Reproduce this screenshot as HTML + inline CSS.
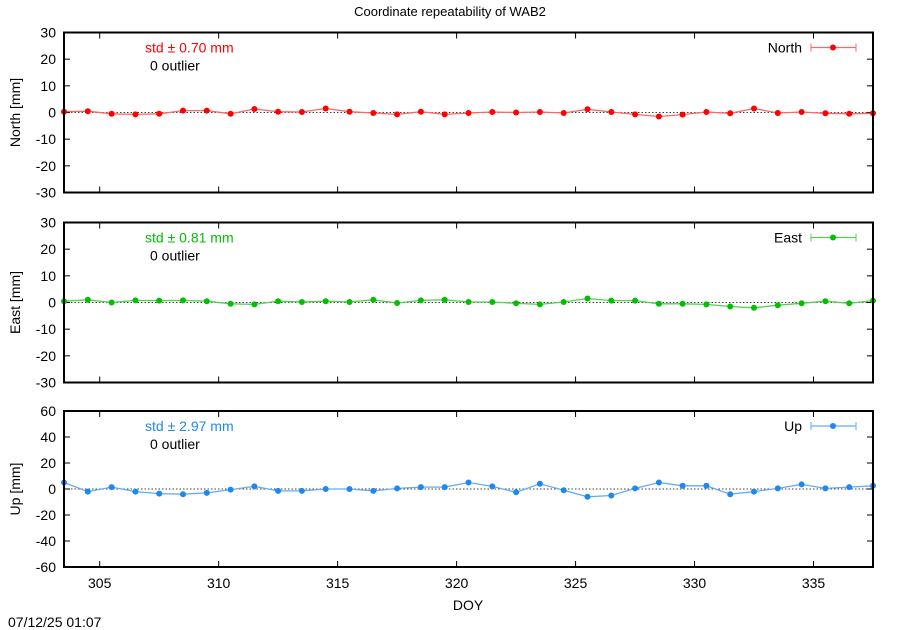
<!DOCTYPE html>
<html><head><meta charset="utf-8"><style>
body{margin:0;background:#fff;width:900px;height:630px;overflow:hidden}
svg{display:block;font-family:"Liberation Sans",sans-serif}
</style></head><body>
<svg id="s" width="900" height="630" xmlns="http://www.w3.org/2000/svg"></svg>
<script>
var s=document.getElementById('s'),h='';
var X0=64,X1=873,xmin=303.5,xmax=337.5;
function X(v){return X0+(v-xmin)*(X1-X0)/(xmax-xmin);}
var P=[
{t:32.5,b:192.5,min:-30,max:30,step:10,name:'North',lab:'North [mm]',c:'#ff0000',lc:'#ff6666',std:'0.70',
d:[0.3,0.5,-0.5,-0.7,-0.5,0.7,0.7,-0.5,1.3,0.3,0.2,1.5,0.3,-0.2,-0.7,0.3,-0.7,-0.2,0.2,0,0.2,-0.2,1.2,0.2,-0.7,-1.5,-0.8,0.2,-0.3,1.5,-0.2,0.2,-0.3,-0.5,-0.3]},
{t:222.5,b:382.5,min:-30,max:30,step:10,name:'East',lab:'East [mm]',c:'#00c000',lc:'#55d055',std:'0.81',
d:[0.5,1,0,0.8,0.7,0.8,0.5,-0.5,-0.7,0.5,0.2,0.5,0.2,1,-0.2,0.8,1,0.2,0.2,-0.3,-0.7,0.2,1.5,0.7,0.7,-0.5,-0.5,-0.7,-1.5,-2,-1,-0.3,0.5,-0.3,0.7]},
{t:411,b:567,min:-60,max:60,step:20,name:'Up',lab:'Up [mm]',c:'#1e88f0',lc:'#66aaf5',std:'2.97',
d:[5,-2,1.5,-2,-3.5,-4,-3,-0.5,2,-1.5,-1.5,0,0,-1.5,0.5,1.5,1.5,5,2,-2.5,4,-1,-6,-5,0.5,5,2.5,2.5,-4,-2,0.5,3.5,0.5,1.5,2.5]}];
h+='<text x="450" y="16" font-size="13" text-anchor="middle">Coordinate repeatability of WAB2</text>';
P.forEach(function(p){
 function Y(v){return p.b-(v-p.min)*(p.b-p.t)/(p.max-p.min);}
 for(var v=p.min;v<=p.max;v+=p.step){var y=Y(v);
  h+='<text x="56" y="'+(y+5)+'" font-size="14" text-anchor="end">'+v+'</text>';
  if(v>p.min&&v<p.max){h+='<line x1="'+X0+'" x2="'+(X0+6)+'" y1="'+y+'" y2="'+y+'" stroke="#000"/><line x1="'+(X1-6)+'" x2="'+X1+'" y1="'+y+'" y2="'+y+'" stroke="#000"/>';}
 }
 for(var x=305;x<=335;x+=5){var xx=X(x);
  h+='<line x1="'+xx+'" x2="'+xx+'" y1="'+p.b+'" y2="'+(p.b-6)+'" stroke="#000"/><line x1="'+xx+'" x2="'+xx+'" y1="'+p.t+'" y2="'+(p.t+6)+'" stroke="#000"/>';}
 var y0=Y(0);
 h+='<line x1="'+X0+'" x2="'+X1+'" y1="'+y0+'" y2="'+y0+'" stroke="#000" stroke-width="0.8" stroke-dasharray="1.5,2"/>';
 var pts=p.d.map(function(v,i){return X(303.5+i).toFixed(1)+','+Y(v).toFixed(1);});
 h+='<polyline points="'+pts.join(' ')+'" fill="none" stroke="'+p.lc+'" stroke-width="1.3"/>';
 pts.forEach(function(q){var a=q.split(',');h+='<circle cx="'+a[0]+'" cy="'+a[1]+'" r="3" fill="'+p.c+'"/>';});
 h+='<rect x="'+X0+'" y="'+p.t+'" width="'+(X1-X0)+'" height="'+(p.b-p.t)+'" fill="none" stroke="#000" stroke-width="2"/>';
 var ly=p.t+15;
 h+='<text x="802" y="'+(ly+5)+'" font-size="14" text-anchor="end">'+p.name+'</text>';
 h+='<line x1="811" x2="856" y1="'+ly+'" y2="'+ly+'" stroke="'+p.lc+'" stroke-width="1.3"/><line x1="811" x2="811" y1="'+(ly-4)+'" y2="'+(ly+4)+'" stroke="'+p.lc+'"/><line x1="856" x2="856" y1="'+(ly-4)+'" y2="'+(ly+4)+'" stroke="'+p.lc+'"/><circle cx="833" cy="'+ly+'" r="3" fill="'+p.c+'"/>';
 h+='<text x="145" y="'+(p.t+20)+'" font-size="14" fill="'+p.c+'">std ± '+p.std+' mm</text>';
 h+='<text x="150" y="'+(p.t+38)+'" font-size="14">0 outlier</text>';
 var my=(p.t+p.b)/2;
 h+='<text transform="translate(20,'+my+') rotate(-90)" font-size="14" text-anchor="middle">'+p.lab+'</text>';
});
for(var x=305;x<=335;x+=5){h+='<text x="'+X(x)+'" y="588" font-size="14" text-anchor="middle">'+x+'</text>';}
h+='<text x="468" y="610" font-size="14" text-anchor="middle">DOY</text>';
h+='<text x="8" y="627" font-size="14">07/12/25 01:07</text>';
s.innerHTML=h;
</script>
</body></html>
